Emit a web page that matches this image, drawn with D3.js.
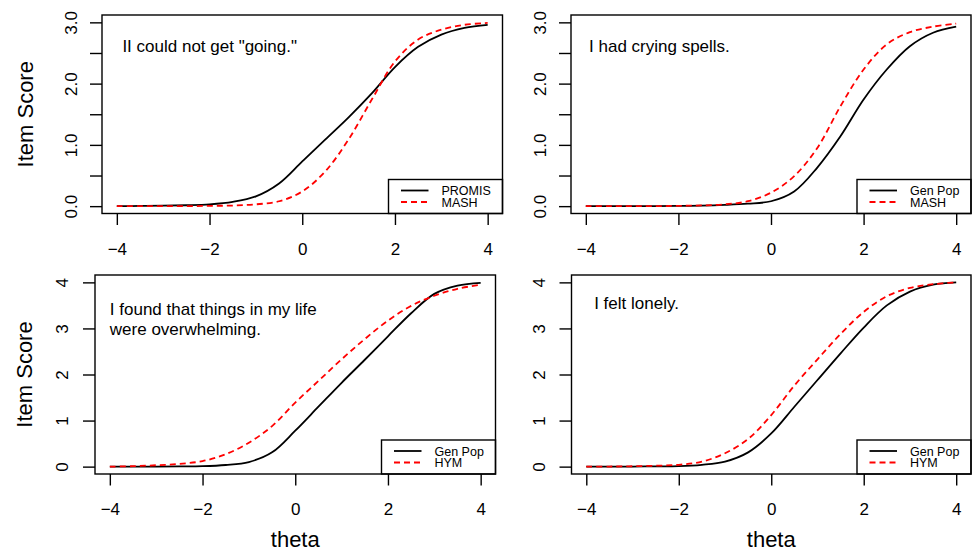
<!DOCTYPE html>
<html>
<head>
<meta charset="utf-8">
<title>Item Score curves</title>
<script src="https://cdn.jsdelivr.net/npm/d3@7"></script>
<style>
body { margin: 0; background: #fff; }
svg text { font-family: "Liberation Sans", Arial, sans-serif; }
</style>
</head>
<body>
<script>
// theta grid the curves were read at
var theta = [-4, -3.5, -3, -2.5, -2, -1.5, -1, -0.5, 0, 0.5, 1, 1.5, 2, 2.5, 3, 3.5, 4];

// panel 1 - "going"
var promis1 = [0, 0.003, 0.007, 0.015, 0.03, 0.07, 0.16, 0.37, 0.73, 1.09, 1.45, 1.84, 2.27, 2.6, 2.8, 2.91, 2.96];
var mash1   = [0, 0, 0, 0, 0.005, 0.01, 0.03, 0.08, 0.24, 0.57, 1.09, 1.74, 2.36, 2.72, 2.88, 2.96, 2.99];
// panel 2 - crying
var genpop2 = [0, 0, 0, 0, 0.003, 0.008, 0.02, 0.04, 0.08, 0.24, 0.63, 1.14, 1.74, 2.23, 2.61, 2.83, 2.93];
var mash2   = [0, 0, 0, 0, 0.005, 0.012, 0.03, 0.08, 0.22, 0.49, 0.95, 1.63, 2.23, 2.64, 2.84, 2.93, 2.98];
// panel 3 - overwhelming
var genpop3 = [0, 0, 0.002, 0.005, 0.01, 0.035, 0.1, 0.31, 0.78, 1.3, 1.82, 2.32, 2.83, 3.33, 3.75, 3.93, 3.99];
var hym3    = [0, 0.01, 0.03, 0.06, 0.12, 0.27, 0.52, 0.88, 1.39, 1.86, 2.33, 2.77, 3.17, 3.49, 3.71, 3.86, 3.95];
// panel 4 - lonely
var genpop4 = [0, 0, 0.002, 0.005, 0.01, 0.04, 0.11, 0.31, 0.72, 1.3, 1.88, 2.46, 3.02, 3.5, 3.8, 3.95, 4.0];
var hym4    = [0, 0.002, 0.008, 0.02, 0.04, 0.11, 0.29, 0.6, 1.12, 1.76, 2.33, 2.88, 3.36, 3.7, 3.88, 3.96, 4.0];

var xTicks = [-4, -2, 0, 2, 4];
var yTicksTop = [0, 0.5, 1, 1.5, 2, 2.5, 3];
var yTicksBottom = [0, 1, 2, 3, 4];

var W = 975, H = 552;
var svg = d3.select("body").append("svg").attr("width", W).attr("height", H);

var panels = [
  {box: [102, 15, 502.5, 213.5], ymax: 3, yTicks: yTicksTop, fmt: d3.format(".1f"),
   a: promis1, b: mash1, names: ["PROMIS", "MASH"], lines: ['II could not get "going."'],
   tx: -3.88, ty: 2.52, titleOff: 69, tickOff: 24.7, xlab: false},
  {box: [571, 15, 971, 213.5], ymax: 3, yTicks: yTicksTop, fmt: d3.format(".1f"),
   a: genpop2, b: mash2, names: ["Gen Pop", "MASH"], lines: ["I had crying spells."],
   tx: -3.93, ty: 2.51, titleOff: 0, tickOff: 24.7, xlab: false},
  {box: [95, 275, 495.5, 474], ymax: 4, yTicks: yTicksBottom, fmt: d3.format("d"),
   a: genpop3, b: hym3, names: ["Gen Pop", "HYM"], lines: ["I found that things in my life", "were overwhelming."],
   tx: -4, ty: 3.29, titleOff: 63.3, tickOff: 26.7, xlab: true},
  {box: [571.5, 275, 971, 474], ymax: 4, yTicks: yTicksBottom, fmt: d3.format("d"),
   a: genpop4, b: hym4, names: ["Gen Pop", "HYM"], lines: ["I felt lonely."],
   tx: -3.83, ty: 3.42, titleOff: 0, tickOff: 26.7, xlab: true}
];

panels.forEach(function(p) {
  var L = p.box[0], T = p.box[1], R = p.box[2], B = p.box[3];
  // R style 4% padding around the data range
  var x = d3.scaleLinear().domain([-4.32, 4.32]).range([L, R]);
  var y = d3.scaleLinear().domain([-0.04 * p.ymax, 1.04 * p.ymax]).range([B, T]);
  var g = svg.append("g");

  // x axis
  var xa = g.append("g").attr("transform", "translate(0," + B + ")")
    .call(d3.axisBottom(x).tickValues(xTicks).tickSize(11.5).tickPadding(17.5));
  xa.select(".domain").remove();
  xa.selectAll("line").attr("stroke", "#000").attr("stroke-width", 1.4);
  xa.selectAll("text").attr("font-size", 17).attr("fill", "#000")
    .attr("font-family", "Liberation Sans, Arial, sans-serif");

  // y axis, labels turned like R
  var ya = g.append("g").attr("transform", "translate(" + L + ",0)")
    .call(d3.axisLeft(y).tickValues(p.yTicks).tickSize(12)
      .tickFormat(function(d) { return d % 1 === 0 ? p.fmt(d) : ""; }));
  ya.select(".domain").remove();
  ya.selectAll("line").attr("stroke", "#000").attr("stroke-width", 1.4);
  ya.selectAll("text")
    .attr("x", null).attr("dy", null)
    .attr("transform", "translate(" + (-p.tickOff) + ",0) rotate(-90)")
    .attr("text-anchor", "middle").attr("font-size", 17).attr("fill", "#000")
    .attr("font-family", "Liberation Sans, Arial, sans-serif");

  if (p.titleOff) {
    g.append("text")
      .attr("transform", "translate(" + (L - p.titleOff) + "," + ((T + B) / 2) + ") rotate(-90)")
      .attr("text-anchor", "middle").attr("font-size", 22).text("Item Score");
  }
  if (p.xlab) {
    g.append("text").attr("x", (L + R) / 2).attr("y", B + 72.7)
      .attr("text-anchor", "middle").attr("font-size", 22).text("theta");
  }

  var line = d3.line()
    .x(function(d, i) { return x(theta[i]); })
    .y(function(d) { return y(d); })
    .curve(d3.curveCatmullRom.alpha(0.5));

  g.append("path").attr("d", line(p.a)).attr("fill", "none")
    .attr("stroke", "#000").attr("stroke-width", 1.8);
  g.append("path").attr("d", line(p.b)).attr("fill", "none")
    .attr("stroke", "#ff0000").attr("stroke-width", 1.8).attr("stroke-dasharray", "6,4");

  // item text
  p.lines.forEach(function(s, i) {
    g.append("text").attr("x", x(p.tx)).attr("y", y(p.ty) + i * 20)
      .attr("font-size", 17).text(s);
  });

  // legend, bottom right
  var lw = 114, lh = 34;
  var lg = g.append("g").attr("transform", "translate(" + (R - lw) + "," + (B - lh) + ")");
  lg.append("rect").attr("width", lw).attr("height", lh)
    .attr("fill", "#fff").attr("stroke", "#000").attr("stroke-width", 1.4);
  lg.append("line").attr("x1", 12.5).attr("x2", 40).attr("y1", 11).attr("y2", 11)
    .attr("stroke", "#000").attr("stroke-width", 1.8);
  lg.append("line").attr("x1", 12.5).attr("x2", 40).attr("y1", 22.5).attr("y2", 22.5)
    .attr("stroke", "#ff0000").attr("stroke-width", 1.8).attr("stroke-dasharray", "6,4");
  lg.append("text").attr("x", 53).attr("y", 15.5).attr("font-size", 12.5).text(p.names[0]);
  lg.append("text").attr("x", 53).attr("y", 27).attr("font-size", 12.5).text(p.names[1]);

  // plot frame
  g.append("rect").attr("x", L).attr("y", T).attr("width", R - L).attr("height", B - T)
    .attr("fill", "none").attr("stroke", "#000").attr("stroke-width", 1.4);
});
</script>
</body>
</html>
